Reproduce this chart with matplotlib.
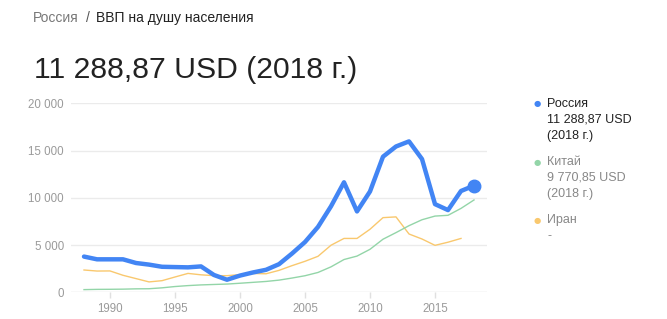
import matplotlib
matplotlib.use("Agg")
import matplotlib.pyplot as plt

plt.rcParams['font.family'] = ['Liberation Sans', 'DejaVu Sans']

years = list(range(1988, 2019))
russia = [3780, 3490, 3490, 3490, 3100, 2930, 2700, 2670, 2640, 2740, 1830, 1330,
          1770, 2100, 2380, 2975, 4100, 5320, 6920, 9100, 11640, 8560, 10670,
          14350, 15430, 15970, 14100, 9330, 8700, 10720, 11289]
china = [283, 310, 318, 333, 366, 377, 473, 610, 709, 782, 828, 873, 959, 1053,
         1148, 1288, 1508, 1753, 2099, 2693, 3468, 3832, 4550, 5618, 6316, 7050,
         7678, 8066, 8147, 8879, 9771]
iran_years = list(range(1988, 2018))
iran = [2360, 2250, 2260, 1800, 1450, 1100, 1230, 1620, 2000, 1850, 1760, 1760,
        1870, 1990, 1960, 2320, 2820, 3280, 3810, 4980, 5700, 5700, 6670, 7900,
        7980, 6170, 5640, 4970, 5300, 5700]

yticks = [0, 5000, 10000, 15000, 20000]
ytick_labels = ["0", "5 000", "10 000", "15 000", "20 000"]
xticks = [1990, 1995, 2000, 2005, 2010, 2015]

legend_entries = [
    ("Россия", "11 288,87 USD", "(2018 г.)"),
    ("Китай", "9 770,85 USD", "(2018 г.)"),
    ("Иран", "-", None),
]

BLUE = "#4285f4"
GREEN = "#93d5a8"
ORANGE = "#f9c86e"

W, H = 667, 319
fig = plt.figure(figsize=(W / 100, H / 100), dpi=100)

ax = fig.add_axes([71 / W, (H - 292.3) / H, 416 / W, 189 / H])
ax.set_xlim(1987, 2019)
ax.set_ylim(0, 20000)
for s in ax.spines.values():
    s.set_visible(False)
for v in yticks:
    ax.axhline(v, color="#ebebeb" if v else "#e0e0e0", lw=1, zorder=0)
ax.set_yticks(yticks)
ax.set_yticklabels(ytick_labels)
ax.set_xticks(xticks)
ax.set_xticklabels([str(x) for x in xticks])
ax.tick_params(axis="y", length=0, pad=5, labelsize=8.3, labelcolor="#9a9a9a")
ax.tick_params(axis="x", length=4, width=1, color="#e0e0e0", pad=4,
               labelsize=8.3, labelcolor="#9a9a9a")

ax.plot(iran_years, iran, color=ORANGE, lw=1.0, zorder=2, solid_joinstyle="round")
ax.plot(years, china, color=GREEN, lw=1.0, zorder=3, solid_joinstyle="round")
ax.plot(years, russia, color=BLUE, lw=3.2, zorder=4, solid_joinstyle="round",
        solid_capstyle="round")
ax.plot([years[-1]], [russia[-1]], "o", color=BLUE, ms=9, zorder=5)

# Header
fig.text(33 / W, 1 - 18 / H, "Россия", color="#777777", fontsize=10, va="center")
fig.text(86 / W, 1 - 18 / H, "/", color="#555555", fontsize=10, va="center")
fig.text(96 / W, 1 - 18 / H, "ВВП на душу населения", color="#222222", fontsize=10, va="center")
fig.text(34 / W, 1 - 70 / H, "11 288,87 USD (2018 г.)", color="#222222", fontsize=21.7,
         va="center")

# Legend
dot_colors = [BLUE, GREEN, ORANGE]
tops = [104, 162, 220]
for (name, val, yr), c, t in zip(legend_entries, dot_colors, tops):
    fig.text(537 / W, 1 - t / H, "●", color=c, fontsize=6, va="center", ha="center",
             family="DejaVu Sans")
    tc = "#222222" if name == "Россия" else "#888888"
    lines = [name, val] + ([yr] if yr else [])
    for i, line in enumerate(lines):
        fig.text(547 / W, 1 - (t + 16 * i) / H, line, color=tc, fontsize=9, va="center")

fig.savefig("out.png", dpi=100, facecolor="white")
